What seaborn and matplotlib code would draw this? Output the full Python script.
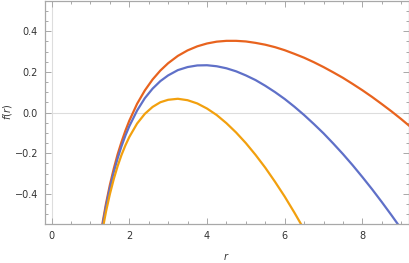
import matplotlib
matplotlib.use("Agg")
import matplotlib.pyplot as plt
from matplotlib.ticker import MultipleLocator, FuncFormatter
import seaborn as sns
import pandas as pd

# Values
r_red = [1.2, 1.3, 1.4, 1.5, 1.6, 1.7, 1.8, 1.9, 2.0, 2.2, 2.4, 2.6, 2.8, 3.0, 3.25, 3.5, 3.75,
         4.0, 4.25, 4.5, 4.75, 5.0, 5.25, 5.5, 5.75, 6.0, 6.25, 6.5, 6.75, 7.0, 7.25, 7.5, 7.75,
         8.0, 8.25, 8.5, 8.75, 9.0, 9.15, 9.3]
f_red = [-0.681, -0.555, -0.448, -0.356, -0.276, -0.205, -0.144, -0.089, -0.040, 0.043, 0.109,
         0.163, 0.207, 0.243, 0.279, 0.306, 0.326, 0.340, 0.349, 0.353, 0.353, 0.350, 0.343,
         0.334, 0.322, 0.307, 0.289, 0.270, 0.248, 0.224, 0.198, 0.171, 0.141, 0.110, 0.077,
         0.042, 0.006, -0.032, -0.056, -0.080]

r_blue = [1.2, 1.3, 1.4, 1.5, 1.6, 1.7, 1.8, 1.9, 2.0, 2.2, 2.4, 2.6, 2.8, 3.0, 3.25, 3.5, 3.75,
          4.0, 4.25, 4.5, 4.75, 5.0, 5.25, 5.5, 5.75, 6.0, 6.25, 6.5, 6.75, 7.0, 7.25, 7.5, 7.75,
          8.0, 8.25, 8.5, 8.75, 9.0]
f_blue = [-0.691, -0.567, -0.461, -0.371, -0.293, -0.225, -0.165, -0.113, -0.067, 0.010, 0.071,
          0.118, 0.155, 0.183, 0.209, 0.224, 0.232, 0.233, 0.228, 0.218, 0.203, 0.183, 0.160,
          0.132, 0.101, 0.067, 0.029, -0.012, -0.056, -0.102, -0.152, -0.204, -0.259, -0.317,
          -0.377, -0.440, -0.505, -0.572]

r_orange = [1.2, 1.3, 1.4, 1.5, 1.6, 1.7, 1.8, 1.9, 2.0, 2.2, 2.4, 2.6, 2.8, 3.0, 3.25, 3.5,
            3.75, 4.0, 4.25, 4.5, 4.75, 5.0, 5.25, 5.5, 5.75, 6.0, 6.25, 6.5]
f_orange = [-0.710, -0.589, -0.487, -0.401, -0.327, -0.263, -0.208, -0.161, -0.120, -0.054,
            -0.006, 0.028, 0.051, 0.063, 0.068, 0.061, 0.045, 0.020, -0.012, -0.052, -0.098,
            -0.150, -0.208, -0.271, -0.340, -0.413, -0.492, -0.575]

series_names = ["c1", "c2", "c3"]
colors = {"c1": "#E8631E", "c2": "#5F70C8", "c3": "#F2A00E"}

df = pd.concat([
    pd.DataFrame({"r": r_red, "f": f_red, "s": "c1"}),
    pd.DataFrame({"r": r_blue, "f": f_blue, "s": "c2"}),
    pd.DataFrame({"r": r_orange, "f": f_orange, "s": "c3"}),
], ignore_index=True)

sns.set_style("white")
plt.rcParams["font.family"] = ["DejaVu Sans"]

fig = plt.figure(figsize=(4.10, 2.63), dpi=100)
ax = fig.add_axes([45 / 410, 1 - 224 / 263, (409 - 45) / 410, (224 - 1) / 263])

ax.axhline(0, color="#DDDDDD", lw=0.8, zorder=0)
ax.axvline(0, color="#DDDDDD", lw=0.8, zorder=0)

sns.lineplot(data=df, x="r", y="f", hue="s", hue_order=series_names, palette=colors,
             estimator=None, sort=False, linewidth=1.6, legend=False, ax=ax)
for ln in ax.get_lines():
    ln.set_solid_joinstyle("round")
    ln.set_solid_capstyle("round")

ax.set_xlim(-0.17, 9.2)
ax.set_ylim(-0.548, 0.549)

ax.xaxis.set_major_locator(MultipleLocator(2))
ax.xaxis.set_minor_locator(MultipleLocator(0.5))
ax.yaxis.set_major_locator(MultipleLocator(0.2))
ax.yaxis.set_minor_locator(MultipleLocator(0.05))
ax.yaxis.set_major_formatter(FuncFormatter(
    lambda v, p: ("\u2212" if v < -1e-9 else "") + f"{abs(v):.1f}"))
ax.xaxis.set_major_formatter(FuncFormatter(lambda v, p: f"{v:.0f}"))

frame_col = "#A8A8A8"
for sp in ax.spines.values():
    sp.set_visible(True)
    sp.set_color(frame_col)
    sp.set_linewidth(0.9)

ax.tick_params(which="both", direction="in", top=True, right=True, bottom=True, left=True,
               color=frame_col, labelsize=7, labelcolor="#333333", width=0.7)
ax.tick_params(which="major", length=4, pad=5)
ax.tick_params(which="minor", length=2.2)

ax.set_xlabel("")
ax.set_ylabel("")
fig.text(226 / 410, 1 - 256 / 263, "$r$", fontsize=7, color="#333333",
         ha="center", va="center")
fig.text(7 / 410, 1 - 112 / 263, "$f(r)$", fontsize=7, color="#333333",
         ha="center", va="center", rotation=90)

fig.savefig("out.png", dpi=100)
